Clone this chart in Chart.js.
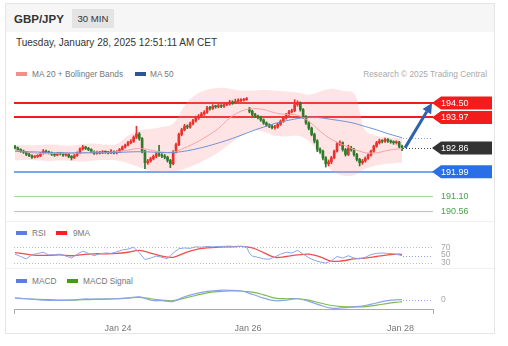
<!DOCTYPE html>
<html>
<head>
<meta charset="utf-8">
<script src="https://cdn.jsdelivr.net/npm/chart.js@4.4.1/dist/chart.umd.min.js"></script>
<style>
html,body{margin:0;padding:0;background:#fff;}
body{width:508px;height:346px;position:relative;overflow:hidden;font-family:"Liberation Sans",Arial,Helvetica,sans-serif;color:#333;}
.abs{position:absolute;white-space:nowrap;}
#card{left:5px;top:3px;width:490px;height:331px;border:1px solid #e6e6e6;box-sizing:border-box;}
#hdr{left:6px;top:4px;width:488px;height:28px;background:#f6f6f6;}
#pair{left:14px;top:11px;font-size:11.5px;font-weight:bold;line-height:16px;color:#333;}
#tf{left:72px;top:9px;width:42px;height:19px;line-height:19px;text-align:center;font-size:9.6px;background:#e4e4e4;color:#333;}
#date{left:16px;top:36px;font-size:10px;line-height:14px;color:#333;}
.leg{font-size:8.3px;color:#777;line-height:10px;}
.sw{width:11px;height:4px;}
.sep{left:6px;width:488px;height:1px;background:#f0f0f0;}
canvas{position:absolute;}
</style>
</head>
<body>
<div class="abs" id="card"></div>
<div class="abs" id="hdr"></div>
<div class="abs" id="pair">GBP/JPY</div>
<div class="abs" id="tf">30 MIN</div>
<div class="abs" id="date">Tuesday, January 28, 2025 12:51:11 AM CET</div>

<div class="abs sw" style="left:16px;top:72px;background:#f58d8d"></div>
<div class="abs leg" style="left:32px;top:69px">MA 20 + Bollinger Bands</div>
<div class="abs sw" style="left:135px;top:72px;background:#2f5597"></div>
<div class="abs leg" style="left:150px;top:69px">MA 50</div>
<div class="abs leg" style="right:21px;top:69px;color:#aaa">Research © 2025 Trading Central</div>

<div class="abs sep" style="top:221px"></div>
<div class="abs sw" style="left:16px;top:231px;background:#5b7fe0"></div>
<div class="abs leg" style="left:32px;top:228px">RSI</div>
<div class="abs sw" style="left:56px;top:231px;background:#ff2020"></div>
<div class="abs leg" style="left:73px;top:228px">9MA</div>

<div class="abs sep" style="top:268px"></div>
<div class="abs sw" style="left:16px;top:279px;background:#5b7fe0"></div>
<div class="abs leg" style="left:32px;top:276px">MACD</div>
<div class="abs sw" style="left:67px;top:279px;background:#3f9f10"></div>
<div class="abs leg" style="left:83px;top:276px">MACD Signal</div>

<script>
// ---------------- DATA ----------------
const tickLabels = ['Jan 24', 'Jan 26', 'Jan 28'];
const tickIdx = [36.5, 82.5, 136.5];

const opens = [192.92,192.86,192.80,192.74,192.70,192.62,192.58,192.52,192.55,192.57,
192.66,192.74,192.70,192.68,192.63,192.60,192.66,192.65,192.60,192.63,
192.55,192.50,192.58,192.68,192.82,192.89,192.84,192.80,192.72,192.66,
192.70,192.68,192.72,192.70,192.68,192.72,192.68,192.72,192.80,192.89,
192.96,193.05,193.10,193.25,193.37,193.20,192.74,192.32,192.38,192.46,
192.55,192.64,192.60,192.56,192.52,192.40,192.28,192.72,192.98,193.35,
193.52,193.65,193.62,193.74,193.85,193.95,194.02,194.10,194.16,194.32,
194.30,194.38,194.36,194.40,194.38,194.44,194.46,194.54,194.50,194.56,
194.58,194.60,194.62,194.28,194.20,194.08,194.02,193.98,193.88,193.77,
193.70,193.65,193.60,193.62,193.72,193.83,193.95,194.08,194.18,194.22,
194.44,194.50,194.26,194.00,193.77,193.58,193.35,193.11,192.80,192.74,
192.50,192.28,192.35,192.50,192.74,193.01,193.05,192.80,192.62,192.86,
192.80,192.62,192.44,192.32,192.38,192.48,192.60,192.74,192.92,193.05,
193.11,193.10,193.17,193.11,193.08,193.05,193.07,192.92];
const closes = [192.86,192.80,192.74,192.70,192.62,192.58,192.52,192.55,192.57,192.66,
192.74,192.70,192.68,192.63,192.60,192.66,192.65,192.60,192.63,192.55,
192.50,192.58,192.68,192.82,192.89,192.84,192.80,192.72,192.66,192.70,
192.68,192.72,192.70,192.68,192.72,192.68,192.72,192.80,192.89,192.96,
193.05,193.10,193.25,193.37,193.20,192.74,192.32,192.38,192.46,192.55,
192.64,192.60,192.56,192.52,192.40,192.28,192.72,192.98,193.35,193.52,
193.65,193.62,193.74,193.85,193.95,194.02,194.10,194.16,194.32,194.30,
194.38,194.36,194.40,194.38,194.44,194.46,194.54,194.50,194.56,194.58,
194.60,194.62,194.66,194.20,194.08,194.02,193.98,193.88,193.77,193.70,
193.65,193.60,193.62,193.72,193.83,193.95,194.08,194.18,194.22,194.44,
194.50,194.26,194.00,193.77,193.58,193.35,193.11,192.80,192.74,192.50,
192.28,192.35,192.50,192.74,193.01,193.05,192.80,192.62,192.86,192.80,
192.62,192.44,192.32,192.38,192.48,192.60,192.74,192.92,193.05,193.11,
193.10,193.17,193.11,193.08,193.05,193.07,192.92,192.86];
const highs = [192.95,192.89,192.83,192.78,192.73,192.66,192.61,192.58,192.61,192.69,
192.80,192.78,192.74,192.71,192.67,192.70,192.70,192.68,192.67,192.66,
192.58,192.62,192.72,192.86,192.95,192.92,192.88,192.83,192.75,192.74,
192.73,192.76,192.75,192.73,192.80,192.75,192.76,192.84,192.93,193.00,
193.10,193.16,193.30,193.65,193.42,193.24,192.78,192.44,192.52,192.60,
192.68,192.95,192.65,192.62,192.56,192.44,192.76,193.04,193.40,193.58,
193.72,193.70,193.80,193.90,194.02,194.08,194.16,194.22,194.38,194.38,
194.44,194.42,194.46,194.44,194.50,194.52,194.60,194.58,194.64,194.65,
194.66,194.67,194.70,194.34,194.24,194.12,194.06,194.02,193.92,193.81,
193.74,193.70,193.68,193.76,193.88,194.00,194.12,194.23,194.28,194.62,
194.58,194.54,194.30,194.04,193.82,193.62,193.40,193.16,192.86,192.78,
192.54,192.42,192.55,192.78,193.06,193.12,193.08,192.84,192.96,192.92,
192.84,192.66,192.48,192.44,192.53,192.64,192.78,192.96,193.10,193.18,
193.16,193.22,193.20,193.15,193.12,193.12,193.10,192.96];
const lows = [192.82,192.76,192.70,192.66,192.58,192.54,192.48,192.49,192.51,192.54,
192.63,192.66,192.64,192.58,192.55,192.57,192.60,192.55,192.56,192.50,
192.42,192.47,192.55,192.65,192.78,192.80,192.76,192.68,192.62,192.63,
192.64,192.65,192.66,192.64,192.65,192.64,192.64,192.69,192.77,192.85,
192.93,193.01,193.06,193.20,193.14,192.68,192.10,192.26,192.34,192.42,
192.50,192.55,192.50,192.46,192.34,192.14,192.24,192.68,192.94,193.30,
193.48,193.56,193.58,193.70,193.80,193.90,193.98,194.05,194.12,194.24,
194.26,194.31,194.32,194.33,194.34,194.40,194.42,194.45,194.47,194.52,
194.54,194.57,194.60,194.14,194.02,193.96,193.92,193.83,193.72,193.65,
193.60,193.55,193.54,193.58,193.68,193.79,193.91,194.04,194.14,194.18,
194.38,194.20,193.94,193.72,193.52,193.30,193.04,192.72,192.66,192.42,
192.16,192.20,192.28,192.46,192.70,192.95,192.74,192.56,192.58,192.74,
192.56,192.38,192.20,192.26,192.34,192.44,192.56,192.70,192.88,193.00,
193.04,193.06,193.06,193.03,192.99,193.00,192.86,192.76];

// indicator sample positions (bar index)
const maIdx = [0,4,8,12,16,20,24,28,32,36,40,44,48,52,56,60,64,68,72,76,80,84,88,92,96,100,104,108,112,116,120,122,124,128,132,136,137];
const ma20 = [192.77,192.71,192.66,192.65,192.66,192.65,192.68,192.71,192.69,192.72,192.78,192.84,192.78,192.71,192.71,192.86,193.05,193.29,193.57,193.95,194.20,194.29,194.26,194.14,194.08,194.05,193.83,193.47,193.17,192.98,192.80,192.74,192.68,192.68,192.77,192.83,192.84];
const bbUpper = [192.95,192.96,192.96,192.98,192.96,192.94,193.00,193.02,192.98,193.00,193.30,193.50,193.55,193.62,193.75,194.40,194.80,194.98,195.05,195.02,194.95,194.95,194.97,194.95,194.92,194.88,194.80,194.92,195.02,194.95,194.85,194.20,193.50,193.30,193.25,193.22,193.22];
const bbLower = [192.40,192.42,192.40,192.38,192.40,192.38,192.36,192.40,192.42,192.40,192.30,192.15,192.02,191.98,192.00,192.10,192.25,192.45,192.70,193.00,193.30,193.50,193.45,193.30,193.28,193.30,193.10,192.65,192.05,191.85,191.86,192.00,192.10,192.22,192.28,192.32,192.33];
const ma50 = [192.74,192.72,192.71,192.69,192.68,192.68,192.68,192.68,192.68,192.69,192.71,192.72,192.71,192.69,192.69,192.74,192.82,192.92,193.04,193.17,193.32,193.48,193.62,193.75,193.85,193.93,193.98,193.96,193.90,193.84,193.76,193.70,193.64,193.52,193.38,193.26,193.23];

const rsiIdx = [0,2,4,6,8,10,12,14,16,18,20,22,24,26,28,30,32,34,36,38,40,42,44,46,48,50,52,54,56,58,60,62,64,66,68,70,72,74,76,78,80,82,83,84,86,88,90,92,94,96,98,100,102,104,106,108,110,112,114,116,118,120,122,124,126,128,130,132,134,136,137];
const rsi = [52,46,40,50,54,57,50,51,52,47,42,52,60,54,48,53,55,54,58,63,65,70,56,38,42,47,44,40,55,66,68,67,71,70,72,71,72,72,73,71,72,71,54,47,44,40,39,45,52,57,55,62,52,43,36,32,29,35,46,42,48,42,40,44,51,54,55,54,53,50,48];
const rsi9ma = [56,52,49,49,50,48,51,53,53,54,57,62,55,47,44,55,64,68,70,71,72,68,56,44,46,50,52,45,34,35,40,41,42,46,50,52,51];
const rsiLevels = [70, 50, 30];
const rsiGuides = [70, 30];

const macd = [0.045,0.027,0.0,-0.018,-0.018,-0.01,0.018,0.018,0.018,0.027,0.045,0.08,-0.01,-0.027,-0.045,0.08,0.17,0.23,0.26,0.26,0.24,0.15,0.045,-0.027,-0.01,0.027,-0.045,-0.15,-0.234,-0.225,-0.198,-0.18,-0.16,-0.09,-0.027,0.0,0.0];
const macdSignal = [0.045,0.027,0.009,0,-0.01,-0.01,0,0.009,0.018,0.027,0.045,0.063,0.027,-0.01,-0.027,0.045,0.117,0.19,0.225,0.24,0.24,0.207,0.135,0.045,0.027,0.027,-0.01,-0.09,-0.16,-0.19,-0.198,-0.196,-0.19,-0.15,-0.1,-0.063,-0.054];

const levelValues = [194.50, 193.97, 191.99, 191.10, 190.56];
const levelLabels = ['194.50', '193.97', '191.99', '191.10', '190.56'];
const levelKinds = ['res', 'res', 'sup', 'tgt', 'tgt'];
const targetPrice = 194.50;
const lastPriceLabel = '192.86';

// ---------------- STYLE ----------------
Chart.defaults.font.family = '"Liberation Sans", Arial, sans-serif';
const UP = '#e8322e', DOWN = '#2f7a2a';
const levelStyle = {
  res: {line: '#f21c1c', w: 2, box: '#f21c1c', text: '#fff'},
  sup: {line: '#78a6f2', w: 2, box: '#2b6fe6', text: '#fff'},
  tgt: {line: '#a9d6a2', w: 1, box: null, text: '#4aa04a'}
};
const X_MIN = -0.354, X_MAX = 147.97;
const PAD = {left: 9, right: 62};

function mkCanvas(left, top, w, h) {
  const c = document.createElement('canvas');
  c.width = w; c.height = h;
  c.style.left = left + 'px'; c.style.top = top + 'px';
  c.style.width = w + 'px'; c.style.height = h + 'px';
  document.body.appendChild(c);
  return c;
}
const pts = (xs, ys) => xs.map((x, k) => ({x, y: ys[k]}));
const hiddenX = {type: 'linear', min: X_MIN, max: X_MAX, offset: false, display: false, grid: {display: false}};
const common = {
  responsive: false, animation: false, devicePixelRatio: 1, events: [],
  plugins: {legend: {display: false}, tooltip: {enabled: false}}
};

function dotted(ctx, x0, x1, y, color) {
  ctx.save();
  ctx.strokeStyle = color; ctx.lineWidth = 1; ctx.setLineDash([1, 2]);
  ctx.beginPath(); ctx.moveTo(x0, Math.round(y) + 0.5); ctx.lineTo(x1, Math.round(y) + 0.5); ctx.stroke();
  ctx.restore();
}
function tagBox(ctx, xl, yc, w, h, color, text, tcolor) {
  ctx.save();
  ctx.fillStyle = color;
  ctx.beginPath();
  ctx.moveTo(xl, yc);
  ctx.lineTo(xl + 9, yc - h / 2);
  ctx.lineTo(xl + w, yc - h / 2);
  ctx.lineTo(xl + w, yc + h / 2);
  ctx.lineTo(xl + 9, yc + h / 2);
  ctx.closePath(); ctx.fill();
  ctx.fillStyle = tcolor; ctx.font = '9px "Liberation Sans", Arial, sans-serif';
  ctx.textBaseline = 'middle'; ctx.textAlign = 'left';
  ctx.fillText(text, xl + 9, yc + 0.5);
  ctx.restore();
}

// ---------------- MAIN PRICE CHART ----------------
const last = closes.length - 1;
const mainDeco = {
  id: 'mainDeco',
  beforeDatasetsDraw(chart) {
    const {ctx, chartArea: a, scales: {y}} = chart;
    ctx.save();
    levelValues.forEach((v, k) => {
      const st = levelStyle[levelKinds[k]];
      const py = Math.round(y.getPixelForValue(v)) + (st.w % 2 ? 0.5 : 0);
      ctx.strokeStyle = st.line; ctx.lineWidth = st.w;
      ctx.beginPath(); ctx.moveTo(a.left, py); ctx.lineTo(a.right, py); ctx.stroke();
    });
    ctx.restore();
  },
  afterDatasetsDraw(chart) {
    const {ctx, chartArea: a, scales: {x, y}} = chart;
    const xl = x.getPixelForValue(last) + 1;
    dotted(ctx, xl, a.right, y.getPixelForValue(ma50[ma50.length - 1]), '#7f9fe0');
    dotted(ctx, xl, a.right, y.getPixelForValue(closes[last]), '#444');
    // arrow
    const x0 = xl + 2, y0 = y.getPixelForValue(closes[last]);
    const x1 = a.right - 1, y1 = y.getPixelForValue(targetPrice);
    const ang = Math.atan2(y1 - y0, x1 - x0);
    const hl = 10, hw = 5;
    const bx = x1 - hl * Math.cos(ang), by = y1 - hl * Math.sin(ang);
    ctx.save();
    ctx.strokeStyle = '#2e62ad'; ctx.fillStyle = '#2e62ad'; ctx.lineWidth = 3; ctx.lineCap = 'butt';
    ctx.beginPath(); ctx.moveTo(x0, y0); ctx.lineTo(bx, by); ctx.stroke();
    ctx.beginPath(); ctx.moveTo(x1, y1);
    ctx.lineTo(bx + hw * Math.sin(ang), by - hw * Math.cos(ang));
    ctx.lineTo(bx - hw * Math.sin(ang), by + hw * Math.cos(ang));
    ctx.closePath(); ctx.fill();
    ctx.restore();
    // labels
    const bxl = a.right - 1, bw = 60, bh = 13;
    levelValues.forEach((v, k) => {
      const st = levelStyle[levelKinds[k]];
      const py = y.getPixelForValue(v);
      if (st.box) tagBox(ctx, bxl, py, bw, bh, st.box, levelLabels[k], st.text);
      else {
        ctx.save(); ctx.fillStyle = st.text; ctx.font = '9px "Liberation Sans", Arial, sans-serif';
        ctx.textBaseline = 'middle'; ctx.fillText(levelLabels[k], bxl + 9, py + 0.5); ctx.restore();
      }
    });
    tagBox(ctx, bxl, y.getPixelForValue(closes[last]), bw, bh, '#333333', lastPriceLabel, '#fff');
  }
};

new Chart(mkCanvas(5, 80, 490, 145), {
  type: 'line',
  data: {
    datasets: [
      {label: 'bbU', data: pts(maIdx, bbUpper), borderWidth: 0, pointRadius: 0, tension: 0.4, fill: false, order: 20},
      {label: 'bbL', data: pts(maIdx, bbLower), borderWidth: 0, pointRadius: 0, tension: 0.4, fill: '-1', backgroundColor: 'rgba(250,150,150,0.26)', order: 19},
      {type: 'bar', label: 'wick', data: closes.map((c, i) => ({x: i, y: [lows[i], highs[i]]})), barThickness: 1, grouped: false,
        backgroundColor: c => closes[c.dataIndex] >= opens[c.dataIndex] ? UP : DOWN, order: 10},
      {type: 'bar', label: 'body', data: closes.map((c, i) => ({x: i, y: [opens[i], c]})), barThickness: 2, minBarLength: 1, grouped: false,
        backgroundColor: c => closes[c.dataIndex] >= opens[c.dataIndex] ? UP : DOWN, order: 9},
      {label: 'MA 20 + Bollinger Bands', data: pts(maIdx, ma20), borderColor: '#f6a3a3', borderWidth: 1, pointRadius: 0, tension: 0.4, order: 3},
      {label: 'MA 50', data: pts(maIdx, ma50), borderColor: '#6d8fd6', borderWidth: 1, pointRadius: 0, tension: 0.4, order: 2}
    ]
  },
  options: Object.assign({}, common, {
    layout: {padding: {left: PAD.left, right: PAD.right, top: 6, bottom: 7}},
    scales: {
      x: hiddenX,
      y: {type: 'linear', min: 190.30, max: 195.12, display: false}
    }
  }),
  plugins: [mainDeco]
});

// ---------------- RSI ----------------
const rsiDeco = {
  id: 'rsiDeco',
  beforeDatasetsDraw(chart) {
    const {ctx, chartArea: a, scales: {y}} = chart;
    rsiGuides.forEach(v => dotted(ctx, a.left, a.right, y.getPixelForValue(v), '#bdbdbd'));
  },
  afterDatasetsDraw(chart) {
    const {ctx, chartArea: a, scales: {x, y}} = chart;
    dotted(ctx, x.getPixelForValue(rsiIdx[rsiIdx.length - 1]) + 1, a.right, y.getPixelForValue(rsi[rsi.length - 1]), '#8aa4ec');
    ctx.save(); ctx.fillStyle = '#a8a8a8'; ctx.font = '8.5px "Liberation Sans", Arial, sans-serif'; ctx.textBaseline = 'middle';
    rsiLevels.forEach(v => ctx.fillText(String(v), a.right + 8, y.getPixelForValue(v)));
    ctx.restore();
  }
};
new Chart(mkCanvas(5, 236, 490, 34), {
  type: 'line',
  data: {
    datasets: [
      {label: '9MA', data: pts(maIdx, rsi9ma), borderColor: '#f24e4e', borderWidth: 1.3, pointRadius: 0, tension: 0.4, order: 2},
      {label: 'RSI', data: pts(rsiIdx, rsi), borderColor: '#8ba5ec', borderWidth: 1, pointRadius: 0, tension: 0, order: 1}
    ]
  },
  options: Object.assign({}, common, {
    layout: {padding: {left: PAD.left, right: PAD.right, top: 5, bottom: 4}},
    scales: {x: hiddenX, y: {type: 'linear', min: 21.5, max: 86, display: false}}
  }),
  plugins: [rsiDeco]
});

// ---------------- MACD ----------------
const macdDeco = {
  id: 'macdDeco',
  afterDatasetsDraw(chart) {
    const {ctx, chartArea: a, scales: {x, y}} = chart;
    dotted(ctx, x.getPixelForValue(maIdx[maIdx.length - 1]) + 1, a.right, y.getPixelForValue(macd[macd.length - 1]), '#8aa4ec');
    ctx.save(); ctx.fillStyle = '#a8a8a8'; ctx.font = '8.5px "Liberation Sans", Arial, sans-serif'; ctx.textBaseline = 'middle';
    ctx.fillText('0', a.right + 8, y.getPixelForValue(0));
    ctx.strokeStyle = '#aaa'; ctx.lineWidth = 1;
    const yb = Math.round(a.bottom);
    [a.left, a.right].forEach(px => { ctx.beginPath(); ctx.moveTo(Math.round(px) + 0.5, yb); ctx.lineTo(Math.round(px) + 0.5, yb + 4); ctx.stroke(); });
    ctx.restore();
  }
};
new Chart(mkCanvas(5, 280, 490, 56), {
  type: 'line',
  data: {
    datasets: [
      {label: 'MACD Signal', data: pts(maIdx, macdSignal), borderColor: '#7dbb52', borderWidth: 1.2, pointRadius: 0, tension: 0.4, order: 2},
      {label: 'MACD', data: pts(maIdx, macd), borderColor: '#8ba5ec', borderWidth: 1.2, pointRadius: 0, tension: 0.4, order: 1}
    ]
  },
  options: Object.assign({}, common, {
    layout: {padding: {left: PAD.left, right: PAD.right, top: 6, bottom: 3}},
    scales: {
      x: {type: 'linear', min: X_MIN, max: X_MAX, offset: false,
        grid: {display: false}, border: {display: true, color: '#aaa', width: 1},
        afterBuildTicks: s => { s.ticks = tickIdx.map(v => ({value: v})); },
        ticks: {autoSkip: false, maxRotation: 0, padding: 6, color: '#777', font: {size: 9},
          callback: v => { const k = tickIdx.indexOf(v); return k >= 0 ? tickLabels[k] : ''; }}},
      y: {type: 'linear', min: -0.27, max: 0.378, display: false}
    }
  }),
  plugins: [macdDeco]
});
</script>
</body>
</html>
